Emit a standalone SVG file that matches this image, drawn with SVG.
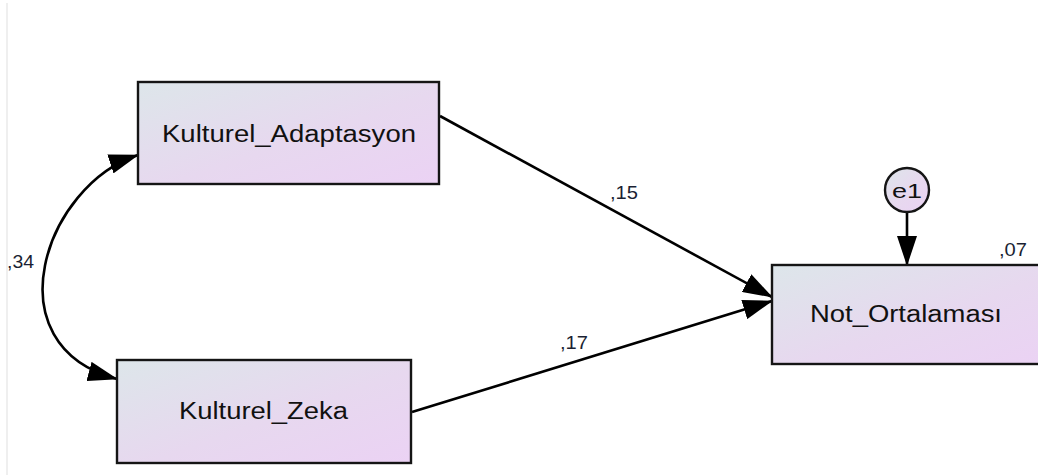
<svg xmlns="http://www.w3.org/2000/svg" width="1038" height="475" viewBox="0 0 1038 475">
<defs>
<linearGradient id="g" x1="0" y1="0" x2="1" y2="1" gradientUnits="objectBoundingBox">
<stop offset="0" stop-color="#dde6ea"/>
<stop offset="0.55" stop-color="#e7d8ef"/>
<stop offset="1" stop-color="#ebd2f4"/>
</linearGradient>
<marker id="ah" markerUnits="userSpaceOnUse" markerWidth="30" markerHeight="20" refX="29" refY="10" orient="auto-start-reverse" viewBox="0 0 30 20">
<path d="M0,0 L30,10 L0,20 Z" fill="#000"/>
</marker>
<style>
.box{fill:url(#g);stroke:#151515;stroke-width:2.4}
.lbl{font-family:"Liberation Sans",Arial,sans-serif;font-size:23px;fill:#111}
.num{font-family:"Liberation Sans",Arial,sans-serif;font-size:18px;fill:#1a1f33}
.edge{fill:none;stroke:#000;stroke-width:2.6}
</style>
</defs>
<rect width="1038" height="475" fill="#fff"/>
<line x1="7" y1="3" x2="7" y2="475" stroke="#efefef" stroke-width="2"/>
<g id="connectors">
<path class="edge" d="M117,379 C-10,345 45,185 138,155" marker-start="url(#ah)" marker-end="url(#ah)"/>
<line class="edge" x1="440" y1="116" x2="772" y2="297" marker-end="url(#ah)"/>
<line class="edge" x1="412" y1="412" x2="772" y2="301" marker-end="url(#ah)"/>
<line class="edge" x1="907" y1="212" x2="907" y2="265" marker-end="url(#ah)"/>
<text class="num" x="7" y="268" textLength="27" lengthAdjust="spacingAndGlyphs">,34</text>
<text class="num" x="610" y="199" textLength="28" lengthAdjust="spacingAndGlyphs">,15</text>
<text class="num" x="560" y="349" textLength="28" lengthAdjust="spacingAndGlyphs">,17</text>
</g>
<g id="node-kulturel-adaptasyon">
<rect class="box" x="138" y="82" width="301" height="102"/>
<text class="lbl" x="162" y="142" textLength="254" lengthAdjust="spacingAndGlyphs">Kulturel_Adaptasyon</text>
</g>
<g id="node-kulturel-zeka">
<rect class="box" x="117" y="360" width="294" height="103"/>
<text class="lbl" x="179" y="419" textLength="169" lengthAdjust="spacingAndGlyphs">Kulturel_Zeka</text>
</g>
<g id="node-not-ortalamasi">
<rect class="box" x="772" y="265" width="280" height="99"/>
<text class="lbl" x="810" y="322" textLength="192" lengthAdjust="spacingAndGlyphs">Not_Ortalaması</text>
<text class="num" x="999" y="256" textLength="28" lengthAdjust="spacingAndGlyphs">,07</text>
</g>
<g id="node-e1">
<circle cx="907" cy="190" r="22" fill="url(#g)" stroke="#151515" stroke-width="2.4"/>
<text x="892" y="198" font-family="Liberation Sans, Arial, sans-serif" font-size="21" fill="#111" textLength="30" lengthAdjust="spacingAndGlyphs">e1</text>
</g>
</svg>
